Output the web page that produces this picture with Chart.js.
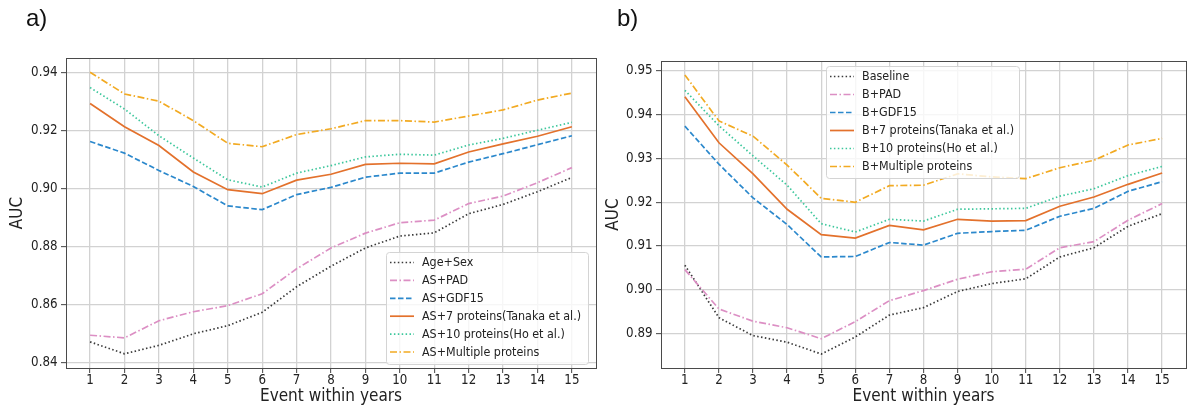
<!DOCTYPE html>
<html>
<head>
<meta charset="utf-8">
<script src="https://cdn.jsdelivr.net/npm/chart.js@4"></script>
<style>
  body { margin: 0; background: #fff; }
  #wrap { position: relative; width: 1195px; height: 407px; overflow: hidden; }
  canvas { position: absolute; top: 0; }
  #chartA { left: 0; }
  #chartB { left: 600px; }
  .tag { position: absolute; top: 4px; font: 24px 'Liberation Sans', sans-serif; color: #111; }
</style>
</head>
<body>
<div id="wrap">
  <canvas id="chartA" width="600" height="407"></canvas>
  <canvas id="chartB" width="595" height="407"></canvas>
  <div class="tag" style="left:26px">a)</div>
  <div class="tag" style="left:617px">b)</div>
</div>
<script>
// x axis: follow-up window in years
const years = [1, 2, 3, 4, 5, 6, 7, 8, 9, 10, 11, 12, 13, 14, 15];

// panel a: age + sex based models
const ageSex   = [0.8470, 0.8429, 0.8458, 0.8498, 0.8526, 0.8572, 0.8660, 0.8731, 0.8794, 0.8835, 0.8846, 0.8912, 0.8944, 0.8988, 0.9037];
const asPad    = [0.8493, 0.8484, 0.8543, 0.8574, 0.8595, 0.8636, 0.8722, 0.8794, 0.8845, 0.8881, 0.8890, 0.8947, 0.8973, 0.9019, 0.9071];
const asGdf15  = [0.9161, 0.9121, 0.9061, 0.9006, 0.8939, 0.8926, 0.8978, 0.9003, 0.9038, 0.9052, 0.9052, 0.9090, 0.9119, 0.9150, 0.9181];
const asTanaka = [0.9292, 0.9212, 0.9147, 0.9056, 0.8995, 0.8981, 0.9028, 0.9048, 0.9082, 0.9086, 0.9084, 0.9125, 0.9153, 0.9179, 0.9212];
const asHo     = [0.9347, 0.9273, 0.9181, 0.9104, 0.9029, 0.9004, 0.9052, 0.9078, 0.9108, 0.9117, 0.9114, 0.9149, 0.9172, 0.9200, 0.9227];
const asMulti  = [0.9400, 0.9325, 0.9300, 0.9233, 0.9155, 0.9143, 0.9185, 0.9205, 0.9233, 0.9233, 0.9228, 0.9249, 0.9270, 0.9304, 0.9328];
const ticksA   = [0.84, 0.86, 0.88, 0.90, 0.92, 0.94];

// panel b: baseline models
const baseline = [0.9056, 0.8936, 0.8895, 0.8880, 0.8853, 0.8892, 0.8942, 0.8959, 0.8996, 0.9014, 0.9025, 0.9075, 0.9096, 0.9145, 0.9174];
const bPad     = [0.9046, 0.8956, 0.8928, 0.8913, 0.8888, 0.8927, 0.8975, 0.8998, 0.9024, 0.9041, 0.9047, 0.9096, 0.9110, 0.9159, 0.9197];
const bGdf15   = [0.9374, 0.9287, 0.9210, 0.9149, 0.9075, 0.9076, 0.9108, 0.9102, 0.9129, 0.9133, 0.9136, 0.9168, 0.9186, 0.9225, 0.9247];
const bTanaka  = [0.9441, 0.9336, 0.9265, 0.9184, 0.9126, 0.9118, 0.9147, 0.9137, 0.9161, 0.9157, 0.9158, 0.9191, 0.9212, 0.9241, 0.9267];
const bHo      = [0.9456, 0.9375, 0.9306, 0.9239, 0.9151, 0.9132, 0.9161, 0.9157, 0.9184, 0.9185, 0.9186, 0.9214, 0.9231, 0.9261, 0.9282];
const bMulti   = [0.9491, 0.9386, 0.9351, 0.9285, 0.9209, 0.9200, 0.9238, 0.9239, 0.9265, 0.9258, 0.9254, 0.9279, 0.9296, 0.9331, 0.9346];
const ticksB   = [0.89, 0.90, 0.91, 0.92, 0.93, 0.94, 0.95];

const labelsA = ['Age+Sex', 'AS+PAD', 'AS+GDF15', 'AS+7 proteins(Tanaka et al.)', 'AS+10 proteins(Ho et al.)', 'AS+Multiple proteins'];
const labelsB = ['Baseline', 'B+PAD', 'B+GDF15', 'B+7 proteins(Tanaka et al.)', 'B+10 proteins(Ho et al.)', 'B+Multiple proteins'];

// line styles shared by both panels, same order as the series
const styles = [
  { color: '#3a3a3a', dash: [1.5, 2.4] },
  { color: '#dc8fc4', dash: [7, 2.5, 1.5, 2.5] },
  { color: '#2b88cc', dash: [5.5, 2.5] },
  { color: '#e3712c', dash: [] },
  { color: '#3cc79c', dash: [1.5, 2.4] },
  { color: '#f2aa22', dash: [7, 2.5, 1.5, 2.5] }
];

const family = '"DejaVu Sans Condensed", "DejaVu Sans"';
const tickFont = { family: family, size: 13.2 };
const titleFont = { family: family, size: 17 };
const legendFont = '12.4px ' + family;

function makeDatasets(series, labels) {
  return series.map((vals, i) => ({
    label: labels[i],
    data: years.map((x, j) => ({ x: x, y: vals[j] })),
    borderColor: styles[i].color,
    borderDash: styles[i].dash,
    borderWidth: 1.7,
    pointRadius: 0,
    fill: false,
    tension: 0,
    order: -i
  }));
}

// box around the plot area
const frame = {
  id: 'frame',
  afterDatasetsDraw(chart) {
    const { ctx, chartArea: a } = chart;
    ctx.save();
    ctx.strokeStyle = '#4a4a4a';
    ctx.lineWidth = 1;
    ctx.strokeRect(Math.round(a.left) + 0.5, Math.round(a.top) + 0.5, Math.round(a.right - a.left), Math.round(a.bottom - a.top));
    ctx.restore();
  }
};

// legend drawn inside the plot with a framed box
const boxLegend = {
  id: 'boxLegend',
  afterDraw(chart, args, opts) {
    const { ctx, chartArea: area } = chart;
    const items = chart.data.datasets;
    ctx.save();
    ctx.font = legendFont;
    const textW = Math.max(...items.map(d => ctx.measureText(d.label).width));
    const w = Math.round(36 + textW + opts.padRight);
    const h = Math.round(opts.rowGap * (items.length - 1) + 22);
    const x = Math.round(opts.left != null ? area.left + opts.left : area.right - opts.right - w);
    const y = Math.round(opts.top != null ? area.top + opts.top : area.bottom - opts.bottom - h);
    ctx.fillStyle = 'rgba(255,255,255,0.8)';
    ctx.strokeStyle = '#d4d4d4';
    ctx.lineWidth = 1;
    ctx.beginPath();
    ctx.roundRect(x + 0.5, y + 0.5, w, h, 3);
    ctx.fill();
    ctx.stroke();
    items.forEach((d, i) => {
      const cy = y + 10.5 + i * opts.rowGap;
      ctx.strokeStyle = d.borderColor;
      ctx.lineWidth = d.borderWidth;
      ctx.setLineDash(d.borderDash);
      ctx.beginPath();
      ctx.moveTo(x + 4, cy);
      ctx.lineTo(x + 28, cy);
      ctx.stroke();
      ctx.setLineDash([]);
      ctx.fillStyle = '#222';
      ctx.textBaseline = 'middle';
      ctx.fillText(d.label, x + 36, cy + 0.5);
    });
    ctx.restore();
  }
};

function makeChart(id, series, labels, yTicks, yMin, yMax, layout, legendOpts) {
  return new Chart(document.getElementById(id), {
    type: 'line',
    data: { datasets: makeDatasets(series, labels) },
    options: {
      responsive: false,
      animation: false,
      devicePixelRatio: 1,
      layout: { padding: layout.padding },
      plugins: {
        legend: { display: false },
        tooltip: { enabled: false },
        boxLegend: legendOpts
      },
      scales: {
        x: {
          type: 'linear',
          min: 0.3,
          max: 15.7,
          afterBuildTicks: s => { s.ticks = years.map(v => ({ value: v })); },
          afterFit: s => { s.height = 39; },
          border: { display: false },
          grid: { color: '#d2d2d2', lineWidth: 1.3, tickColor: '#444', tickLength: 5, tickWidth: 1 },
          ticks: { font: tickFont, color: '#222', padding: 0, autoSkip: false, maxRotation: 0, callback: v => String(v) },
          title: { display: true, text: 'Event within years', font: titleFont, color: '#222', padding: { top: 0, bottom: 0 } }
        },
        y: {
          min: yMin,
          max: yMax,
          afterBuildTicks: s => { s.ticks = yTicks.map(v => ({ value: v })); },
          afterFit: s => { s.width = layout.yWidth; },
          border: { display: false },
          grid: { color: '#d2d2d2', lineWidth: 1.3, tickColor: '#444', tickLength: 5, tickWidth: 1 },
          ticks: { font: tickFont, color: '#222', padding: 3.5, callback: v => v.toFixed(2) },
          title: { display: true, text: 'AUC', font: titleFont, color: '#222', padding: { top: layout.titlePad, bottom: 0 } }
        }
      }
    },
    plugins: [frame, boxLegend]
  });
}

makeChart('chartA', [ageSex, asPad, asGdf15, asTanaka, asHo, asMulti], labelsA, ticksA, 0.8380, 0.9449,
  { padding: { top: 58, right: 4, left: 0, bottom: 0 }, yWidth: 66, titlePad: 7.8 },
  { right: 8, bottom: 4, rowGap: 17.9, padRight: 7 });

makeChart('chartB', [baseline, bPad, bGdf15, bTanaka, bHo, bMulti], labelsB, ticksB, 0.8821, 0.9523,
  { padding: { top: 61, right: 9, left: 0, bottom: 0 }, yWidth: 61, titlePad: 3.3 },
  { left: 165, top: 5, rowGap: 18, padRight: 4.5 });
</script>
</body>
</html>
